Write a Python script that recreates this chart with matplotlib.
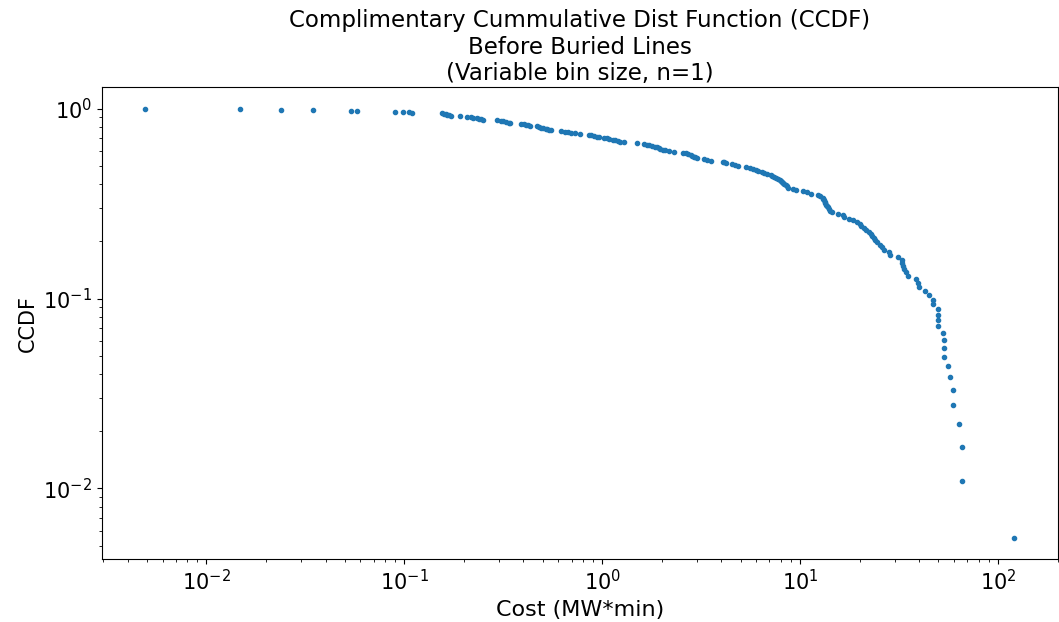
import numpy as np
import matplotlib
matplotlib.use("Agg")
import matplotlib.pyplot as plt

# cost per event (MW*min), sorted ascending
cost = [
    0.0049, 0.0148, 0.0237, 0.0345, 0.0536, 0.0575, 0.0895, 0.0979, 0.1054, 0.1096,
    0.1555, 0.1585, 0.1616, 0.1648, 0.1680, 0.1713, 0.1918, 0.2064, 0.2162, 0.2232,
    0.2318, 0.2381, 0.2429, 0.2486, 0.2943, 0.3066, 0.3139, 0.3250, 0.3377, 0.3417,
    0.3870, 0.4022, 0.4102, 0.4214, 0.4313, 0.4702, 0.4802, 0.4927, 0.5031, 0.5179,
    0.5270, 0.5382, 0.5490, 0.6218, 0.6459, 0.6714, 0.6929, 0.7259, 0.7721, 0.8574,
    0.8797, 0.9090, 0.9380, 0.9634, 1.021, 1.054, 1.079, 1.139, 1.157, 1.202,
    1.226, 1.289, 1.507, 1.627, 1.693, 1.725, 1.794, 1.844, 1.887, 1.931,
    1.960, 2.023, 2.071, 2.177, 2.308, 2.545, 2.645, 2.716, 2.803, 2.836,
    2.893, 2.937, 3.006, 3.273, 3.398, 3.538, 4.055, 4.117, 4.214, 4.519,
    4.707, 4.863, 5.319, 5.593, 5.772, 5.976, 6.153, 6.387, 6.598, 6.794,
    7.118, 7.244, 7.396, 7.544, 7.748, 7.903, 7.996, 8.089, 8.185, 8.329,
    8.476, 8.627, 8.706, 9.196, 9.523, 10.29, 10.82, 11.34, 12.26, 12.59,
    13.00, 13.12, 13.19, 13.35, 13.43, 13.58, 13.74, 13.90, 14.03, 14.23,
    14.43, 15.48, 16.41, 16.72, 17.72, 18.49, 19.49, 20.18, 20.42, 20.95,
    21.64, 22.28, 22.68, 23.08, 23.57, 23.99, 24.60, 25.42, 25.78, 26.45,
    28.23, 28.46, 31.13, 32.62, 32.73, 33.00, 33.62, 34.29, 34.97, 38.53,
    39.44, 40.04, 42.79, 44.98, 46.79, 46.90, 49.61, 49.70, 49.80, 49.96,
    52.58, 53.19, 53.25, 53.56, 55.72, 57.24, 59.48, 59.55, 63.36, 65.62,
    65.70, 121.1,
]

title_lines = ["Complimentary Cummulative Dist Function (CCDF)",
               "Before Buried Lines",
               "(Variable bin size, n=1)"]

# CCDF: fraction of events with cost >= x
n = len(cost)
x = np.sort(np.array(cost))
ccdf = (n - np.arange(n)) / n

fig = plt.figure(figsize=(10.59, 6.22), dpi=100)
ax = fig.add_axes([0.096, 0.1008, 0.903, 0.7588])

ax.plot(x, ccdf, '.', color='#1f77b4', markersize=6)
ax.set_xscale('log')
ax.set_yscale('log')

ax.set_title("\n".join(title_lines), fontsize=16.5, pad=5)
ax.set_xlabel("Cost (MW*min)", fontsize=16)
ax.set_ylabel("CCDF", fontsize=15)
ax.tick_params(axis='both', which='major', labelsize=15)

fig.savefig("out.png", dpi=100)
